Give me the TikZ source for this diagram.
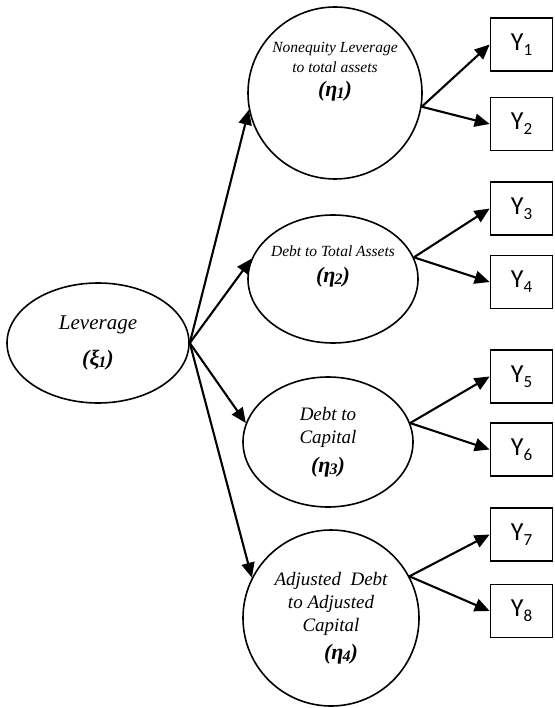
\documentclass[tikz,border=0pt]{standalone}
\usepackage{fontspec}
\setmainfont{Liberation Serif}
\newfontfamily\boxfont{Carlito}
\usetikzlibrary{shapes.geometric,arrows.meta}
\tikzset{
  latent/.style={ellipse,draw,line width=1.6pt,inner sep=0pt,align=center},
  indicator/.style={rectangle,draw,line width=1.7pt,minimum width=62pt,minimum height=53pt,inner sep=0pt,font=\boxfont\fontsize{26}{26}\selectfont},
  loading/.style={-{Triangle[length=15pt,width=13pt]},line width=2.1pt}
}
\newcommand{\gk}[2]{{\fontsize{22}{22}\selectfont\bfseries\itshape(#1\kern-1pt\raisebox{-2pt}{\fontsize{16}{16}\selectfont#2})}}
\newcommand{\ysub}[1]{Y\raisebox{-5pt}{\fontsize{17}{17}\selectfont#1}}

\begin{document}
\begin{tikzpicture}[x=1pt,y=-1pt]
           \useasboundingbox (0,0) rectangle (554,708);
           \node[latent,minimum width=182pt,minimum height=120pt,font=\itshape\fontsize{21}{24}\selectfont] (xi1) at (98,343) {Leverage\\[12pt]\gk{ξ}{1}};
           \node[latent,minimum width=174pt,minimum height=172pt] (eta1) at (335,93) {};
           \node[align=center,font=\itshape\fontsize{15.5}{20}\selectfont] (eta1 text) at (335,72) {Nonequity Leverage\\to total assets\\[4pt]\gk{η}{1}};
           \node[latent,minimum width=170pt,minimum height=128pt] (eta2) at (333,279) {};
           \node[align=center,font=\itshape\fontsize{15.5}{20}\selectfont] (eta2 text) at (333,266) {Debt to Total Assets\\[6pt]\gk{η}{2}};
           \node[latent,minimum width=170pt,minimum height=130pt,font=\itshape\fontsize{19}{23}\selectfont] (eta3) at (328,442) {Debt to\\Capital\\[6pt]\gk{η}{3}};
           \node[latent,minimum width=176pt,minimum height=176pt,font=\itshape\fontsize{19}{23}\selectfont] (eta4) at (331,618) {Adjusted\ \ Debt\\to Adjusted\\Capital\\[5pt]\hspace{20pt}\gk{η}{4}};
           \node[indicator] (y1) at (521.5,44.5) {\ysub{1}};
           \node[indicator] (y2) at (521.5,124) {\ysub{2}};
           \node[indicator] (y3) at (521.5,208.5) {\ysub{3}};
           \node[indicator] (y4) at (521.5,282) {\ysub{4}};
           \node[indicator] (y5) at (521.5,376.5) {\ysub{5}};
           \node[indicator] (y6) at (521.5,449.5) {\ysub{6}};
           \node[indicator] (y7) at (521.5,534.5) {\ysub{7}};
           \node[indicator] (y8) at (521.5,611) {\ysub{8}};
            \path[loading]
            (xi1.east) edge (eta1.191)
                       edge (eta2.166)
                       edge (eta3.167)
                       edge (eta4.153)
            (eta1.-9) edge (y1.west)
                      edge (y2.west)
            (eta2.15) edge (y3.west)
                      edge (y4.west)
            (eta3.13) edge (y5.west)
                      edge (y6.west)
            (eta4.28) edge (y7.west)
                      edge (y8.west);
        \end{tikzpicture}
\end{document}
